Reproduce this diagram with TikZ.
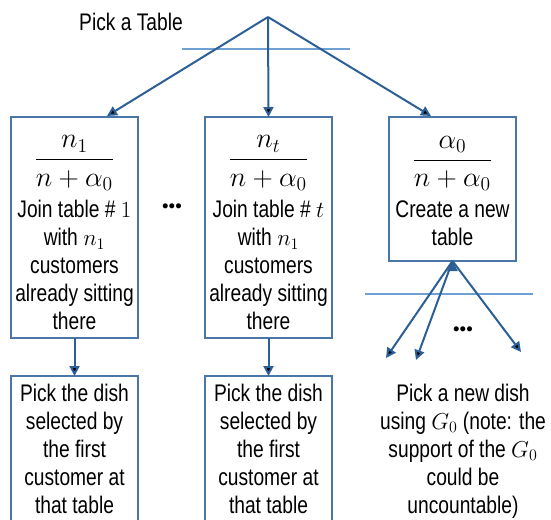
\documentclass[tikz,border=0pt]{standalone}
\usepackage{amsmath}
\usepackage[no-math]{fontspec}
\setmainfont[FakeStretch=0.8]{Liberation Sans}
\newfontfamily\dotfont{Liberation Sans}
\usetikzlibrary{arrows.meta,positioning}
\definecolor{boxblue}{HTML}{4A76A8}
\definecolor{arrowblue}{HTML}{2C5F96}
\definecolor{lineblue}{HTML}{6FA0D4}
\tikzset{
    %Define standard arrow tip
    >={Triangle[length=7.5pt,width=7.5pt]},
    %Define style for boxes
    tablebox/.style={
           rectangle,
           draw=boxblue, line width=1.5pt,
           minimum width=95.25pt,
           inner sep=2pt, outer sep=0pt,
           font=\fontsize{18}{21}\selectfont,
           align=center,
           },
    dishbox/.style={
           tablebox,
           minimum height=109.5pt,
           },
    plain/.style={
           font=\fontsize{18}{21}\selectfont,
           align=center,
           },
    dots/.style={
           font=\dotfont\fontsize{14}{16}\selectfont,
           },
    % Define arrow style
    pil/.style={
           ->,
           draw=arrowblue,
           line width=1.5pt,},
    cut/.style={draw=lineblue, line width=0.8pt}
}
\newcommand{\bigfrac}[3][31.5pt]{\rule{0pt}{#1}\scalebox{1.22}{$\dfrac{#2}{#3}$}}

\begin{document}
\begin{tikzpicture}[x=0.75pt,y=-0.75pt]
\useasboundingbox (0,0) rectangle (551,519);
% tables
\node[tablebox, minimum height=165.75pt](tab1) at (74.5,227.5)
   {\bigfrac{n_1}{n+\alpha_0}\\[6.5pt] Join table \# $1$\\ with $n_1$\\ customers\\ already sitting\\ there};
\node[tablebox, minimum height=165.75pt, right=50.25pt of tab1](tabt)
   {\bigfrac{n_t}{n+\alpha_0}\\[6.5pt] Join table \# $t$\\ with $n_1$\\ customers\\ already sitting\\ there};
\node[tablebox, minimum height=108pt, right=42.75pt of tabt.north east, anchor=north west](tabnew)
   {\bigfrac[26.5pt]{\alpha_0}{n+\alpha_0}\\[6.5pt] Create a new\\ table};
% dishes
\node[dishbox, below=28.5pt of tab1](dish1)
   {Pick the dish\\ selected by\\ the first\\ customer at\\ that table};
\node[dishbox, below=28.5pt of tabt](disht)
   {Pick the dish\\ selected by\\ the first\\ customer at\\ that table};
\node[plain](newdish) at (463,451)
   {Pick a new dish\\ using $G_0$ (note: the\\ support of the $G_0$\\ could be\\ uncountable)};
\node[plain](pick) at (131,22){Pick a Table};
\node[dots](dots1) at (172,208){•••};
\node[dots](dots2) at (463,331){•••};
\coordinate (root) at (268,17);
\coordinate (in1) at (107,116);
\coordinate (in3) at (431,116);
\coordinate (out1) at (386,358);
\coordinate (out2) at (416,360);
\coordinate (out3) at (521,352);
% cut lines
\draw[cut] (182,49) -- (350,49);
\draw[cut] (365,294) -- (533,294);
\path[pil]
	(root) edge (in1) edge (tabt.north) edge (in3)
	(tab1) edge (dish1)
	(tabt) edge (disht)
	(tabnew.south) edge (out1) edge (out2) edge (out3);
\end{tikzpicture}
\end{document}
